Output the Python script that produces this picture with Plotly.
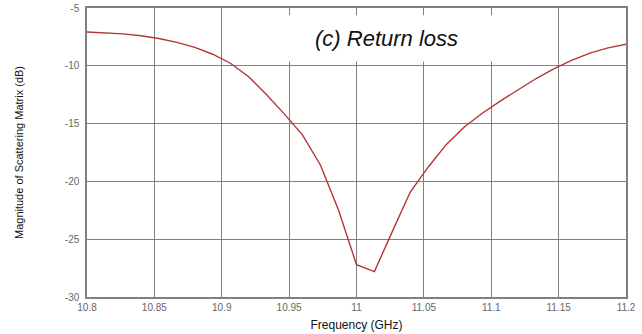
import numpy as np
import plotly.graph_objects as go

# Simulated S11 sweep: 31 points from 10.8 to 11.2 GHz
freq_ghz = list(np.round(np.linspace(10.8, 11.2, 31), 4))
s11_db = [
    -7.08, -7.14, -7.24, -7.40, -7.64, -7.97, -8.40, -9.00, -9.80, -10.95,
    -12.50, -14.20, -16.00, -18.60, -22.50, -27.20, -27.80, -24.30, -20.90, -18.75,
    -16.80, -15.30, -14.10, -13.05, -12.05, -11.10, -10.25, -9.50, -8.90, -8.45,
    -8.13,
]

x_ticks = [10.8, 10.85, 10.9, 10.95, 11.0, 11.05, 11.1, 11.15, 11.2]
x_tick_labels = ["10.8", "10.85", "10.9", "10.95", "11", "11.05", "11.1", "11.15", "11.2"]
y_ticks = [-5, -10, -15, -20, -25, -30]
y_tick_labels = ["-5", "-10", "-15", "-20", "-25", "-30"]

axis_font = dict(family="Liberation Sans Narrow, Liberation Sans, Arial", size=10, color="#666666")
label_font = dict(family="Liberation Sans Narrow, Liberation Sans, Arial", size=12, color="#111111")
grid_color = "#808080"

fig = go.Figure()
fig.add_trace(go.Scatter(
    x=freq_ghz, y=s11_db, mode="lines",
    line=dict(color="#b53535", width=1.4),
    hoverinfo="skip", showlegend=False,
))

fig.update_xaxes(
    range=[10.8, 11.2], tickvals=x_ticks, ticktext=x_tick_labels,
    showgrid=True, gridcolor=grid_color, gridwidth=1,
    showline=True, linecolor=grid_color, linewidth=1.5, mirror=True,
    ticks="", tickfont=axis_font, ticklabelstandoff=0,
    zeroline=False, automargin=False,
    title=dict(text="Frequency (GHz)", font=label_font, standoff=9),
)
fig.update_yaxes(
    range=[-30, -5], tickvals=y_ticks, ticktext=y_tick_labels,
    showgrid=True, gridcolor=grid_color, gridwidth=1,
    showline=True, linecolor=grid_color, linewidth=1.5, mirror=True,
    ticks="", tickfont=axis_font, ticklabelstandoff=4,
    zeroline=False, automargin=False,
    title=dict(text="Magnitude of Scattering Matrix (dB)",
               font=dict(family=label_font["family"], size=11, color="#111111"),
               standoff=39),
)

# White panel behind the caption, hiding the grid underneath
fig.add_shape(type="rect", xref="paper", yref="paper",
              x0=0.285, x1=0.84, y0=0.815, y1=0.975,
              fillcolor="white", line=dict(width=0), layer="above")
fig.add_annotation(
    text="<i>(c) Return loss</i>", xref="paper", yref="paper",
    x=0.555, y=0.895, xanchor="center", yanchor="middle", showarrow=False,
    font=dict(family="Liberation Sans, Arial", size=22, color="#111111"),
)

fig.update_layout(
    width=642, height=334,
    margin=dict(l=87, r=16, t=8, b=37),
    paper_bgcolor="white", plot_bgcolor="white",
)

fig.write_html("out.html")
